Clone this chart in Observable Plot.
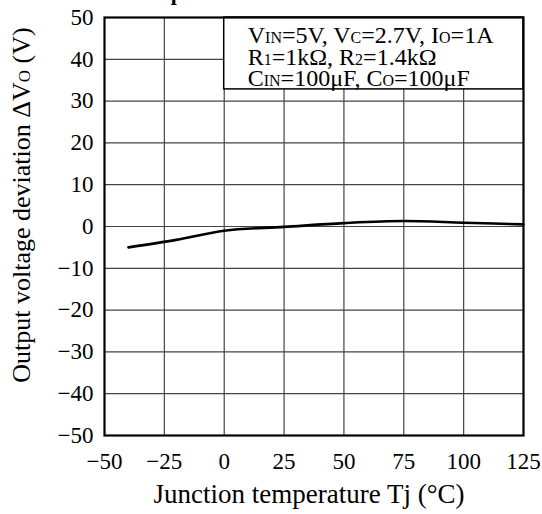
<!DOCTYPE html>
<html>
<head>
<meta charset="utf-8">
<script src="https://cdn.jsdelivr.net/npm/d3@7"></script>
<script src="https://cdn.jsdelivr.net/npm/@observablehq/plot@0.6"></script>
<style>
  html, body { margin: 0; padding: 0; background: #fff; }
  svg { display: block; }
</style>
</head>
<body>
<div id="chart"></div>
<script>
const temps = [-40, -20, 0, 25, 50, 75, 100, 125];
const deviation = [-5.0, -3.2, -1.0, -0.1, 0.8, 1.3, 0.9, 0.5];
const xTicks = [-50, -25, 0, 25, 50, 75, 100, 125];
const yTicks = [-50, -40, -30, -20, -10, 0, 10, 20, 30, 40, 50];
const xLabel = "Junction temperature Tj (°C)";
const yLabel = "Output voltage deviation ΔV";
const titleText = "Temperature";

const data = temps.map((t, i) => ({t, v: deviation[i]}));
const fmt = d => (d < 0 ? "\u2212" + Math.abs(d) : String(d));
const FONT = "'Liberation Serif', 'DejaVu Serif', serif";

const plot = Plot.plot({
  width: 542,
  height: 514,
  marginLeft: 104,
  marginRight: 19,
  marginTop: 17,
  marginBottom: 79,
  style: {fontFamily: FONT, fontSize: "23px", color: "#000", background: "#fff"},
  x: {domain: [-50, 125], ticks: xTicks, tickFormat: fmt, label: null},
  y: {domain: [-50, 50], ticks: yTicks, tickFormat: fmt, label: null},
  marks: [
    Plot.ruleX(xTicks.slice(1, -1), {stroke: "#444", strokeWidth: 1.2}),
    Plot.ruleY(yTicks.slice(1, -1), {stroke: "#444", strokeWidth: 1.2}),
    Plot.rect([{x1: 0, x2: 125, y1: 32.8, y2: 50}], {x1: "x1", x2: "x2", y1: "y1", y2: "y2", fill: "#fff", stroke: "#000", strokeWidth: 1.5}),
    Plot.line(data, {x: "t", y: "v", stroke: "#000", strokeWidth: 2.6, curve: "monotone-x"}),
    Plot.frame({stroke: "#000", strokeWidth: 2.2}),
    Plot.axisX({ticks: xTicks, tickFormat: fmt, tickSize: 0, tickPadding: 17, fontSize: 23, label: null}),
    Plot.axisY({ticks: yTicks, tickFormat: fmt, tickSize: 0, tickPadding: 11, fontSize: 23, label: null})
  ]
});

document.getElementById("chart").appendChild(plot);

const svg = d3.select(plot);
const xs = plot.scale("x");

// title (cut at top, as in the reference)
svg.append("text").attr("x", 191).attr("y", 0).attr("text-anchor", "middle")
  .attr("font-family", FONT).attr("font-size", 22).attr("font-weight", "bold").text(titleText);

// x label
svg.append("text").attr("x", 309).attr("y", 503)
  .attr("text-anchor", "middle").attr("font-family", FONT).attr("font-size", 27).text(xLabel);

// y label
const yl = svg.append("text").attr("transform", `translate(30,205) rotate(-90)`)
  .attr("text-anchor", "middle").attr("font-family", FONT).attr("font-size", 26);
yl.append("tspan").text(yLabel);
yl.append("tspan").attr("font-size", 17).text("O");
yl.append("tspan").text(" (V)");

// legend text
const legendLines = [
  [["V", 0], ["IN", 1], ["=5V, V", 0], ["C", 1], ["=2.7V, I", 0], ["O", 1], ["=1A", 0]],
  [["R", 0], ["1", 1], ["=1kΩ, R", 0], ["2", 1], ["=1.4kΩ", 0]],
  [["C", 0], ["IN", 1], ["=100μF, C", 0], ["O", 1], ["=100μF", 0]]
];
const lx = xs.apply(0) + 24;
legendLines.forEach((line, i) => {
  const t = svg.append("text").attr("x", lx).attr("y", 43 + i * 21.5)
    .attr("text-anchor", "start").attr("font-family", FONT).attr("font-size", 24);
  line.forEach(([s, sub]) => t.append("tspan").attr("font-size", sub ? 16 : 24).text(s));
});
</script>
</body>
</html>
